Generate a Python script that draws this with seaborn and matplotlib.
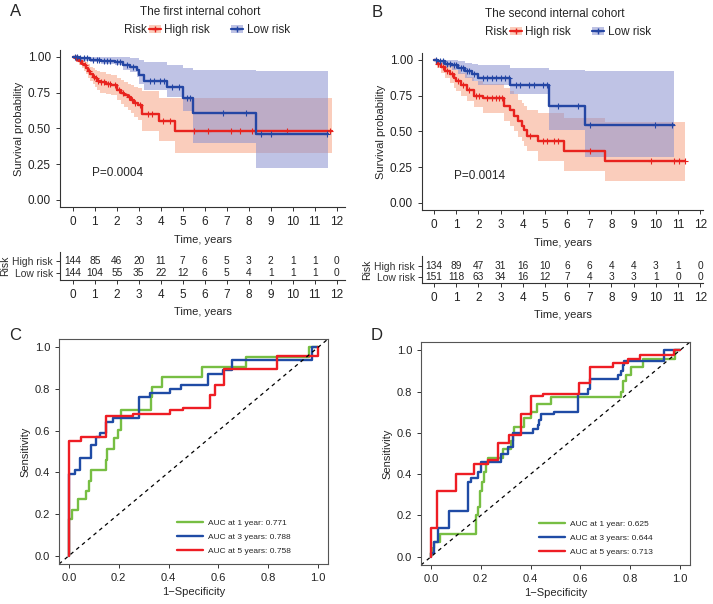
import numpy as np
import matplotlib
matplotlib.use("Agg")
import matplotlib.pyplot as plt
from matplotlib.lines import Line2D
from matplotlib.patches import Patch
import seaborn as sns

# ---------------- Kaplan-Meier data, first cohort (A) ----------------
a_hi_t = [0, 0.1, 0.2, 0.3, 0.4, 0.5, 0.6, 0.7, 0.8, 0.9, 1.0, 1.1, 1.25, 1.5, 1.75,
          2.0, 2.2, 2.35, 2.5, 2.65, 2.8, 2.95, 3.15, 3.9, 4.65]
a_hi_s = [1.0, 0.99, 0.98, 0.97, 0.95, 0.94, 0.92, 0.90, 0.88, 0.86, 0.85, 0.83, 0.82, 0.81, 0.80,
          0.77, 0.75, 0.73, 0.72, 0.70, 0.68, 0.66, 0.60, 0.55, 0.48]
a_hi_up = [1.0, 1.0, 1.0, 0.99, 0.98, 0.97, 0.96, 0.95, 0.93, 0.92, 0.91, 0.90, 0.89, 0.88, 0.87,
           0.85, 0.84, 0.82, 0.81, 0.80, 0.79, 0.78, 0.76, 0.71, 0.71]
a_hi_lo = [1.0, 0.97, 0.96, 0.94, 0.92, 0.90, 0.88, 0.85, 0.83, 0.81, 0.79, 0.77, 0.75, 0.74, 0.73,
           0.70, 0.67, 0.65, 0.63, 0.61, 0.58, 0.56, 0.48, 0.41, 0.33]
a_hi_end = 11.8
a_hi_cens = [0.15, 0.35, 0.55, 0.75, 0.95, 1.05, 1.15, 1.3, 1.4, 1.6, 1.7, 1.9, 2.1, 2.3, 2.55,
             2.7, 2.85, 3.05, 3.4, 3.6, 4.1, 4.4, 5.5, 6.15, 7.2, 7.6, 8.15, 9.75, 11.7]

a_lo_t = [0, 0.3, 0.8, 1.3, 1.9, 2.3, 2.6, 2.9, 3.0, 3.25, 4.3, 5.0, 5.45, 8.33]
a_lo_s = [1.0, 0.99, 0.98, 0.97, 0.96, 0.94, 0.93, 0.91, 0.87, 0.83, 0.79, 0.71, 0.61, 0.46]
a_lo_up = [1.0, 1.0, 1.0, 1.0, 1.0, 1.0, 0.99, 0.99, 0.98, 0.96, 0.94, 0.92, 0.91, 0.90]
a_lo_lo = [1.0, 0.97, 0.96, 0.95, 0.94, 0.91, 0.89, 0.86, 0.81, 0.77, 0.72, 0.62, 0.40, 0.22]
a_lo_end = 11.6
a_lo_cens = [0.1, 0.2, 0.35, 0.5, 0.65, 0.9, 1.1, 1.2, 1.4, 1.55, 1.7, 2.0, 2.15, 2.45, 2.75,
             3.5, 3.7, 3.95, 4.15, 4.5, 4.85, 5.2, 5.35, 6.85, 7.9, 8.55, 9.0, 11.55]

# ---------------- Kaplan-Meier data, second cohort (B) ----------------
b_hi_t = [0, 0.15, 0.3, 0.5, 0.7, 0.9, 1.0, 1.2, 1.5, 1.8, 2.2, 3.15, 3.45, 3.6, 3.8,
          3.95, 4.05, 4.2, 4.7, 5.85, 7.7]
b_hi_s = [1.0, 0.97, 0.95, 0.92, 0.90, 0.87, 0.85, 0.82, 0.79, 0.75, 0.73, 0.68, 0.65, 0.61, 0.57,
          0.54, 0.51, 0.47, 0.43, 0.365, 0.295]
b_hi_up = [1.0, 1.0, 0.99, 0.97, 0.96, 0.94, 0.93, 0.91, 0.88, 0.85, 0.83, 0.80, 0.78, 0.76, 0.72,
           0.70, 0.68, 0.65, 0.625, 0.59, 0.565]
b_hi_lo = [1.0, 0.94, 0.91, 0.87, 0.84, 0.80, 0.78, 0.75, 0.71, 0.67, 0.63, 0.57, 0.54, 0.50, 0.46,
           0.43, 0.40, 0.36, 0.29, 0.22, 0.15]
b_hi_end = 11.3
b_hi_cens = [0.2, 0.4, 0.6, 0.8, 1.1, 1.3, 1.6, 1.9, 2.05, 2.4, 2.6, 2.8, 2.95, 3.05, 4.35,
             4.9, 5.1, 5.4, 5.6, 7.05, 9.8, 10.8, 11.05, 11.3]

b_lo_t = [0, 0.2, 0.5, 0.8, 1.1, 1.4, 1.7, 2.0, 3.45, 5.2, 6.8]
b_lo_s = [1.0, 0.99, 0.97, 0.96, 0.94, 0.92, 0.90, 0.875, 0.82, 0.68, 0.545]
b_lo_up = [1.0, 1.0, 1.0, 1.0, 0.99, 0.98, 0.97, 0.96, 0.94, 0.93, 0.92]
b_lo_lo = [1.0, 0.97, 0.95, 0.93, 0.90, 0.87, 0.85, 0.82, 0.76, 0.51, 0.32]
b_lo_end = 10.8
b_lo_cens = [0.1, 0.25, 0.4, 0.6, 0.7, 0.9, 1.0, 1.2, 1.3, 1.5, 1.6, 1.8, 2.2, 2.4, 2.6,
             2.8, 3.0, 3.2, 3.4, 3.7, 3.9, 4.3, 4.5, 4.9, 5.1, 5.6, 6.5, 7.05, 9.95, 10.75]

# ---------------- numbers at risk ----------------
years = list(range(13))
a_risk_hi = [144, 85, 46, 20, 11, 7, 6, 5, 3, 2, 1, 1, 0]
a_risk_lo = [144, 104, 55, 35, 22, 12, 6, 5, 4, 1, 1, 1, 0]
b_risk_hi = [134, 89, 47, 31, 16, 10, 6, 6, 4, 4, 3, 1, 0]
b_risk_lo = [151, 118, 63, 34, 16, 12, 7, 4, 3, 3, 1, 0, 0]

# ---------------- time-dependent ROC, first cohort (C) ----------------
c1_fpr = [0, 0, 0.011, 0.037, 0.07, 0.081, 0.09, 0.15, 0.154, 0.18, 0.197, 0.208, 0.21,
          0.33, 0.335, 0.375, 0.533, 0.71, 0.964, 1.0]
c1_tpr = [0, 0.175, 0.22, 0.27, 0.31, 0.36, 0.41, 0.46, 0.51, 0.565, 0.605, 0.66, 0.70,
          0.76, 0.81, 0.857, 0.908, 0.952, 1.0, 1.0]
c3_fpr = [0, 0, 0.024, 0.044, 0.087, 0.108, 0.124, 0.148, 0.175, 0.281, 0.327, 0.404,
          0.451, 0.557, 0.62, 0.653, 0.977, 1.0]
c3_tpr = [0, 0.39, 0.41, 0.47, 0.53, 0.57, 0.59, 0.64, 0.66, 0.76, 0.78, 0.80,
          0.82, 0.87, 0.89, 0.94, 1.0, 1.0]
c5_fpr = [0, 0, 0.05, 0.15, 0.257, 0.404, 0.457, 0.567, 0.588, 0.624, 0.837, 1.0]
c5_tpr = [0, 0.55, 0.57, 0.67, 0.68, 0.70, 0.71, 0.77, 0.82, 0.895, 0.96, 1.0]
c_auc = [0.771, 0.788, 0.758]

# ---------------- time-dependent ROC, second cohort (D) ----------------
d1_fpr = [0, 0, 0.007, 0.013, 0.037, 0.18, 0.19, 0.196, 0.205, 0.214, 0.222, 0.23, 0.288,
          0.321, 0.328, 0.335, 0.375, 0.402, 0.426, 0.482, 0.763, 0.772, 0.785, 0.803,
          0.85, 0.98, 1.0]
d1_tpr = [0, 0.02, 0.04, 0.07, 0.11, 0.20, 0.24, 0.32, 0.36, 0.41, 0.45, 0.48, 0.52,
          0.56, 0.60, 0.63, 0.67, 0.70, 0.74, 0.775, 0.80, 0.85, 0.88, 0.92,
          0.96, 1.0, 1.0]
d3_fpr = [0, 0, 0.011, 0.027, 0.074, 0.147, 0.161, 0.187, 0.2, 0.281, 0.308, 0.331, 0.408,
          0.428, 0.435, 0.442, 0.495, 0.592, 0.629, 0.64, 0.75, 0.763, 0.77, 0.776, 0.937, 1.0]
d3_tpr = [0, 0.02, 0.07, 0.14, 0.22, 0.36, 0.38, 0.41, 0.46, 0.50, 0.53, 0.60, 0.62,
          0.64, 0.66, 0.69, 0.70, 0.79, 0.81, 0.86, 0.88, 0.90, 0.93, 0.95, 1.0, 1.0]
d5_fpr = [0, 0, 0.024, 0.1, 0.174, 0.227, 0.268, 0.315, 0.36, 0.4, 0.45, 0.595, 0.64,
          0.73, 0.79, 0.84, 0.977, 1.0]
d5_tpr = [0, 0.14, 0.32, 0.40, 0.45, 0.47, 0.55, 0.59, 0.69, 0.78, 0.79, 0.84, 0.92,
          0.94, 0.96, 0.975, 1.0, 1.0]
d_auc = [0.625, 0.644, 0.713]

RED = "#E8231E"
BLUE = "#2446A4"
RED_FILL = "#F7A585"
BLUE_FILL = "#8C92D0"
ROC_COLS = ["#77BE43", "#1F4BA5", "#EE1D24"]
DARK = "#333333"


def draw_km(ax, t, s, lo, up, end, cens, color, fill):
    x = list(t) + [end]
    ax.fill_between(x, list(lo) + [lo[-1]], list(up) + [up[-1]], step="post",
                    color=fill, alpha=0.55, lw=0)
    sns.lineplot(x=x, y=list(s) + [s[-1]], estimator=None, sort=False,
                 drawstyle="steps-post", color=color, lw=1.7, ax=ax)
    # censor marks sit on the step curve
    idx = np.searchsorted(t, cens, side="right") - 1
    ax.plot(cens, np.asarray(s)[idx], ls="none", marker="+", ms=4.5, mew=0.8, color=color)


def style_km(ax, xmin, xmax):
    ax.set_xlim(xmin, xmax)
    ax.set_ylim(-0.05, 1.047)
    ax.set_xticks(years)
    ax.set_yticks([0, 0.25, 0.5, 0.75, 1.0])
    ax.set_yticklabels(["0.00", "0.25", "0.50", "0.75", "1.00"])
    ax.set_xlabel("Time, years", fontsize=8, labelpad=5)
    ax.set_ylabel("Survival probability", fontsize=8, labelpad=3)
    sns.despine(ax=ax)
    for sp in ["left", "bottom"]:
        ax.spines[sp].set_color(DARK)
        ax.spines[sp].set_linewidth(0.8)
    ax.tick_params(labelsize=8.5, length=3, width=0.7, colors=DARK, labelcolor="#222222")


def draw_table(ax, hi, lo, xmin, xmax, ylo, yhi):
    for x, h, l in zip(years, hi, lo):
        ax.text(x, 1, str(h), ha="center", va="center", fontsize=7.3, color="#222222")
        ax.text(x, 0, str(l), ha="center", va="center", fontsize=7.3, color="#222222")
    ax.set_xlim(xmin, xmax)
    ax.set_ylim(ylo, yhi)
    ax.set_xticks(years)
    ax.set_yticks([1, 0])
    ax.set_yticklabels(["High risk", "Low risk"], fontsize=7.5)
    ax.get_yticklabels()[0].set_color("#F0393A")
    ax.get_yticklabels()[1].set_color("#3F5DB5")
    ax.set_ylabel("Risk", fontsize=7.5, labelpad=2)
    ax.set_xlabel("Time, years", fontsize=8, labelpad=4)
    sns.despine(ax=ax)
    for sp in ["left", "bottom"]:
        ax.spines[sp].set_color(DARK)
        ax.spines[sp].set_linewidth(0.8)
    ax.tick_params(axis="x", labelsize=8.5, length=3, width=0.7, colors=DARK, labelcolor="#222222")
    ax.tick_params(axis="y", length=3, width=0.7, colors=DARK, pad=2)


def draw_roc(ax, curves, aucs):
    labels = ["AUC at 1 year: ", "AUC at 3 years: ", "AUC at 5 years: "]
    for (fpr, tpr), col, lab, auc in zip(curves, ROC_COLS, labels, aucs):
        sns.lineplot(x=fpr, y=tpr, estimator=None, sort=False, drawstyle="steps-post",
                     color=col, lw=1.7, ax=ax, label=f"{lab}{auc:.3f}")
    ax.axline((0, 0), (1, 1), ls=(0, (3, 3)), color="black", lw=0.9)
    ax.set_xlim(-0.04, 1.04)
    ax.set_ylim(-0.04, 1.04)
    ticks = [0, 0.2, 0.4, 0.6, 0.8, 1.0]
    ax.set_xticks(ticks)
    ax.set_yticks(ticks)
    ax.set_xticklabels([f"{v:.1f}" for v in ticks])
    ax.set_yticklabels([f"{v:.1f}" for v in ticks])
    ax.set_xlabel("1\u2212Specificity", fontsize=8, labelpad=3)
    ax.set_ylabel("Sensitivity", fontsize=8, labelpad=3)
    for sp in ax.spines.values():
        sp.set_color("#555555")
        sp.set_linewidth(0.8)
    ax.tick_params(labelsize=8, length=3, width=0.7, colors=DARK, labelcolor="#222222")
    ax.legend(loc="center left", bbox_to_anchor=(0.41, 0.12), frameon=False, fontsize=6,
              handlelength=3.2, handletextpad=0.5, labelspacing=0.75)


sns.set_style("ticks")
plt.rcParams["font.family"] = ["Liberation Sans", "DejaVu Sans"]

W, H = 713, 604
fig = plt.figure(figsize=(W / 100, H / 100), dpi=100)


def px_axes(left, top, right, bottom):
    return fig.add_axes([left / W, 1 - bottom / H, (right - left) / W, (bottom - top) / H])


# --- A ---
ax_a = px_axes(60, 50, 345, 207)
draw_km(ax_a, a_hi_t, a_hi_s, a_hi_lo, a_hi_up, a_hi_end, a_hi_cens, RED, RED_FILL)
draw_km(ax_a, a_lo_t, a_lo_s, a_lo_lo, a_lo_up, a_lo_end, a_lo_cens, BLUE, BLUE_FILL)
style_km(ax_a, -0.58, 12.38)
ax_a.text(0.88, 0.19, "P=0.0004", fontsize=8.5, va="center")

tab_a = px_axes(60, 252, 345, 280)
draw_table(tab_a, a_risk_hi, a_risk_lo, -0.58, 12.38, -0.58, 1.75)

# --- B ---
ax_b = px_axes(422, 53, 703, 210)
draw_km(ax_b, b_hi_t, b_hi_s, b_hi_lo, b_hi_up, b_hi_end, b_hi_cens, RED, RED_FILL)
draw_km(ax_b, b_lo_t, b_lo_s, b_lo_lo, b_lo_up, b_lo_end, b_lo_cens, BLUE, BLUE_FILL)
style_km(ax_b, -0.54, 12.13)
ax_b.text(0.9, 0.186, "P=0.0014", fontsize=8.5, va="center")

tab_b = px_axes(422, 256, 703, 283)
draw_table(tab_b, b_risk_hi, b_risk_lo, -0.54, 12.13, -0.55, 1.9)

# titles and legends for the survival panels
for cx, cy, title, rx, ly in [(200, 12, "The first internal cohort", 147, 30),
                              (555, 14, "The second internal cohort", 508, 32)]:
    fig.text(cx / W, 1 - cy / H, title, ha="center", va="center", fontsize=8.5)
    fig.text(rx / W, 1 - ly / H, "Risk", ha="right", va="center", fontsize=8.5)
    handles = [(Patch(color=RED_FILL, alpha=0.55, lw=0), Line2D([], [], color=RED, lw=1.6, marker="+", ms=4)),
               (Patch(color=BLUE_FILL, alpha=0.55, lw=0), Line2D([], [], color=BLUE, lw=1.6, marker="+", ms=4))]
    fig.legend(handles, ["High risk", "Low risk"], loc="center left",
               bbox_to_anchor=((rx + 2) / W, 1 - ly / H), ncol=2, frameon=False,
               fontsize=8.5, handlelength=1.0, handletextpad=0.3, columnspacing=1.8,
               borderpad=0, borderaxespad=0)

# --- C and D ---
ax_c = px_axes(59, 339, 328, 564)
draw_roc(ax_c, [(c1_fpr, c1_tpr), (c3_fpr, c3_tpr), (c5_fpr, c5_tpr)], c_auc)
ax_d = px_axes(421, 342, 690, 565)
draw_roc(ax_d, [(d1_fpr, d1_tpr), (d3_fpr, d3_tpr), (d5_fpr, d5_tpr)], d_auc)

# panel letters
for x, y, letter in [(10, 4, "A"), (372, 5, "B"), (9, 328, "C"), (371, 328, "D")]:
    fig.text(x / W, 1 - y / H, letter, ha="left", va="top", fontsize=12)

fig.savefig("out.png", dpi=100)
plt.close(fig)
